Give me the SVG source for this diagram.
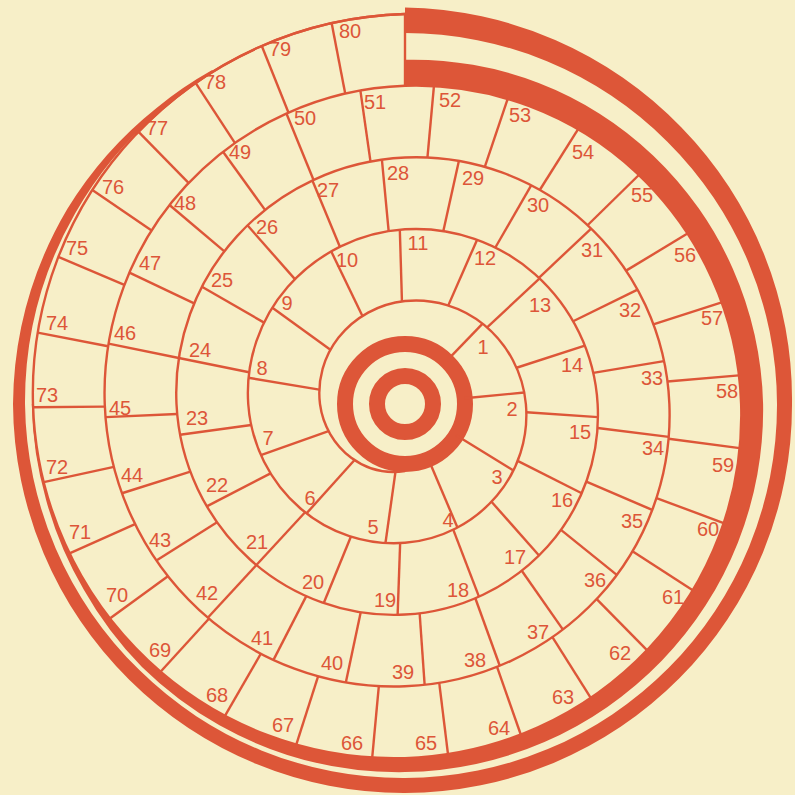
<svg xmlns="http://www.w3.org/2000/svg" width="795" height="795" viewBox="0 0 795 795">
<style>
.ln{fill:none;stroke:#dd5638;stroke-width:2.4}
.dv line{stroke:#dd5638;stroke-width:2.4}
.band{fill:#dd5638;stroke:none}
.lb text{font-family:"Liberation Sans",Arial,sans-serif;font-size:20px;fill:#dd5638;text-anchor:middle}
</style>
<rect id="background" x="0" y="0" width="795" height="795" fill="#f7efc8"/>
<g id="target">
<circle cx="405" cy="404" r="60" fill="none" stroke="#dd5638" stroke-width="16"/>
<circle cx="405" cy="404" r="28" fill="none" stroke="#dd5638" stroke-width="16"/>
</g>
<g id="spiral">
<path class="ln" d="M405 471.07 A71.6 71.6 0 0 1 351.23 457.77 A80.5 80.5 0 0 1 319.99 404 A89.5 89.5 0 0 1 338.55 337.55 A98.5 98.5 0 0 1 405 301.06 A107.4 107.4 0 0 1 484.13 324.87 A116.4 116.4 0 0 1 525.88 404 A125.4 125.4 0 0 1 496.82 495.82 A134.3 134.3 0 0 1 405 542.82 A143.3 143.3 0 0 1 300.5 508.5 A152.3 152.3 0 0 1 248.24 404 A161.2 161.2 0 0 1 287.81 286.81 A170.2 170.2 0 0 1 405 229.3 A179.2 179.2 0 0 1 534.87 274.13 A188.1 188.1 0 0 1 597.63 404 A197.1 197.1 0 0 1 547.55 546.55 A206.1 206.1 0 0 1 405 614.57 A215.1 215.1 0 0 1 249.76 559.24 A224 224 0 0 1 176.49 404 A233 233 0 0 1 237.08 236.08 A242 242 0 0 1 405 157.55 A250.9 250.9 0 0 1 585.61 223.39 A259.9 259.9 0 0 1 669.38 404 A268.9 268.9 0 0 1 598.29 597.29 A277.8 277.8 0 0 1 405 686.32 A286.8 286.8 0 0 1 199.03 609.97 A295.8 295.8 0 0 1 104.74 404 A304.7 304.7 0 0 1 186.34 185.34 A313.7 313.7 0 0 1 405 85.8 A322.7 322.7 0 0 1 636.34 172.66 A331.7 331.7 0 0 1 741.14 404 A340.6 340.6 0 0 1 649.03 648.03 A349.6 349.6 0 0 1 405 758.08 A358.6 358.6 0 0 1 148.29 660.71 A367.5 367.5 0 0 1 32.99 404 A376.5 376.5 0 0 1 135.61 134.61 A385.5 385.5 0 0 1 405 14.05"/>
<path class="ln" stroke-width="3.4" d="M135.61 134.61 A385.5 385.5 0 0 1 405 14.05"/>
</g>
<g id="inner-band">
<path class="band" d="M405 59.8 A347.7 347.7 0 0 1 653.33 155.67 A354.7 354.7 0 0 1 763.1 404 A360.6 360.6 0 0 1 661.75 660.75 A365.6 365.6 0 0 1 405 772.1 A369.6 369.6 0 0 1 219.45 725.37 A371.5 371.5 0 0 1 141.96 667.04 A371.5 371.5 0 0 1 83.7 589.5 A371.2 371.2 0 0 1 46.16 500.14 A372.3 372.3 0 0 1 31.8 404 L32.99 404 A370.5 370.5 0 0 0 48.56 499.5 A367.5 367.5 0 0 0 88.01 587.02 A364.5 364.5 0 0 0 148.29 660.71 A361.5 361.5 0 0 0 224.97 715.81 A357 357 0 0 0 405 758.08 A349.6 349.6 0 0 0 649.03 648.03 A340.6 340.6 0 0 0 741.14 404 A331.7 331.7 0 0 0 636.34 172.66 A322.7 322.7 0 0 0 405 85.8 Z"/>
</g>
<g id="outer-band">
<path class="band" d="M405 7.5 A393.7 393.7 0 0 1 681.48 127.52 A389 389 0 0 1 792 404 A387.5 387.5 0 0 1 679.35 678.35 A388.5 388.5 0 0 1 405 793 A389.5 389.5 0 0 1 129.23 679.77 A391 391 0 0 1 13 404 A391 391 0 0 1 67.26 209 A388 388 0 0 1 156.56 107.94 A386 386 0 0 1 212.2 70.07 L213.4 72.15 A382.6 382.6 0 0 0 159.45 111.39 A381.5 381.5 0 0 0 75.05 213.5 A380.5 380.5 0 0 0 25 404 A378 378 0 0 0 139.13 669.87 A375 375 0 0 0 405 778 A373.5 373.5 0 0 0 668.75 667.75 A372.5 372.5 0 0 0 777 404 A371.5 371.5 0 0 0 667.33 141.67 A371 371 0 0 0 405 33 Z"/>
</g>
<g id="dividers" class="dv" transform="translate(405 404)">
<line x1="60" x2="111.7" transform="rotate(314)"/>
<line x1="60" x2="119.8" transform="rotate(354.5)"/>
<line x1="60" x2="127.2" transform="rotate(31.5)"/>
<line x1="60" x2="134.2" transform="rotate(67)"/>
<line x1="68.7" x2="140.4" transform="rotate(98)"/>
<line x1="75.4" x2="147.2" transform="rotate(132)"/>
<line x1="81.1" x2="152.9" transform="rotate(160.5)"/>
<line x1="86.9" x2="158.7" transform="rotate(189.5)"/>
<line x1="92.2" x2="163.9" transform="rotate(216)"/>
<line x1="97.8" x2="169.6" transform="rotate(244.2)"/>
<line x1="102.6" x2="174.4" transform="rotate(268.3)"/>
<line x1="107.7" x2="179.4" transform="rotate(293.7)"/>
<line x1="112.3" x2="184.1" transform="rotate(317)"/>
<line x1="117.3" x2="189.1" transform="rotate(342)"/>
<line x1="121.7" x2="193.4" transform="rotate(3.9)"/>
<line x1="126.2" x2="198" transform="rotate(26.8)"/>
<line x1="130.6" x2="202.3" transform="rotate(48.5)"/>
<line x1="134.6" x2="206.4" transform="rotate(69)"/>
<line x1="139.2" x2="211" transform="rotate(92)"/>
<line x1="143.3" x2="215" transform="rotate(112.2)"/>
<line x1="147.3" x2="219.1" transform="rotate(132.7)"/>
<line x1="151.3" x2="223.1" transform="rotate(152.7)"/>
<line x1="155.2" x2="227" transform="rotate(172.2)"/>
<line x1="159.1" x2="230.8" transform="rotate(191.5)"/>
<line x1="162.7" x2="234.5" transform="rotate(210)"/>
<line x1="166.5" x2="238.2" transform="rotate(228.6)"/>
<line x1="170.2" x2="242" transform="rotate(247.5)"/>
<line x1="173.6" x2="245.4" transform="rotate(264.6)"/>
<line x1="177.2" x2="248.9" transform="rotate(282.5)"/>
<line x1="180.7" x2="252.4" transform="rotate(300)"/>
<line x1="184" x2="255.8" transform="rotate(316.7)"/>
<line x1="187.4" x2="259.2" transform="rotate(333.8)"/>
<line x1="190.8" x2="262.5" transform="rotate(350.6)"/>
<line x1="194.1" x2="265.8" transform="rotate(7.1)"/>
<line x1="197.3" x2="269" transform="rotate(23.2)"/>
<line x1="200.4" x2="272.1" transform="rotate(38.9)"/>
<line x1="203.6" x2="275.4" transform="rotate(55)"/>
<line x1="206.6" x2="278.4" transform="rotate(70.1)"/>
<line x1="209.8" x2="281.5" transform="rotate(86)"/>
<line x1="213" x2="284.7" transform="rotate(102)"/>
<line x1="216" x2="287.7" transform="rotate(117.2)"/>
<line x1="219.1" x2="290.8" transform="rotate(132.7)"/>
<line x1="222.1" x2="293.8" transform="rotate(147.8)"/>
<line x1="225" x2="296.8" transform="rotate(162.5)"/>
<line x1="228" x2="299.8" transform="rotate(177.5)"/>
<line x1="230.8" x2="302.6" transform="rotate(191.5)"/>
<line x1="233.6" x2="305.3" transform="rotate(205.5)"/>
<line x1="236.5" x2="308.3" transform="rotate(220.2)"/>
<line x1="239.3" x2="311.1" transform="rotate(234.2)"/>
<line x1="242" x2="313.8" transform="rotate(247.8)"/>
<line x1="244.8" x2="316.6" transform="rotate(261.9)"/>
<line x1="247.5" x2="319.2" transform="rotate(275.2)"/>
<line x1="250.2" x2="321.9" transform="rotate(288.6)"/>
<line x1="252.9" x2="324.6" transform="rotate(302.2)"/>
<line x1="255.5" x2="327.3" transform="rotate(315.6)"/>
<line x1="258.2" x2="329.9" transform="rotate(328.9)"/>
<line x1="260.8" x2="332.6" transform="rotate(342.2)"/>
<line x1="263.4" x2="335.2" transform="rotate(355.1)"/>
<line x1="265.9" x2="337.6" transform="rotate(7.5)"/>
<line x1="268.5" x2="340.2" transform="rotate(20.5)"/>
<line x1="270.9" x2="342.7" transform="rotate(32.9)"/>
<line x1="273.5" x2="345.2" transform="rotate(45.5)"/>
<line x1="275.9" x2="347.6" transform="rotate(57.7)"/>
<line x1="278.5" x2="350.2" transform="rotate(70.7)"/>
<line x1="280.9" x2="352.7" transform="rotate(83)"/>
<line x1="283.4" x2="355.1" transform="rotate(95.3)"/>
<line x1="285.9" x2="357.6" transform="rotate(107.7)"/>
<line x1="288.3" x2="360.1" transform="rotate(120)"/>
<line x1="290.8" x2="362.5" transform="rotate(132.4)"/>
<line x1="293.1" x2="364.8" transform="rotate(144)"/>
<line x1="295.5" x2="367.2" transform="rotate(156)"/>
<line x1="297.8" x2="369.6" transform="rotate(167.8)"/>
<line x1="300.2" x2="371.9" transform="rotate(179.5)"/>
<line x1="302.5" x2="374.2" transform="rotate(191)"/>
<line x1="304.9" x2="376.6" transform="rotate(203)"/>
<line x1="307.1" x2="378.9" transform="rotate(214.4)"/>
<line x1="309.4" x2="381.1" transform="rotate(225.6)"/>
<line x1="311.6" x2="383.4" transform="rotate(236.9)"/>
<line x1="313.9" x2="385.6" transform="rotate(248.2)"/>
<line x1="316" x2="387.8" transform="rotate(259.1)"/>
<line x1="318.2" x2="390" transform="rotate(270)"/>
</g>
<g id="labels" class="lb">
<text x="483" y="354">1</text>
<text x="512" y="416">2</text>
<text x="497" y="484">3</text>
<text x="448" y="527">4</text>
<text x="373" y="534">5</text>
<text x="310" y="505">6</text>
<text x="268" y="445">7</text>
<text x="262" y="375">8</text>
<text x="287" y="310">9</text>
<text x="347" y="267">10</text>
<text x="418" y="250">11</text>
<text x="485" y="265">12</text>
<text x="540" y="312">13</text>
<text x="572" y="372">14</text>
<text x="580" y="439">15</text>
<text x="562" y="507">16</text>
<text x="515" y="564">17</text>
<text x="458" y="597">18</text>
<text x="385" y="607">19</text>
<text x="313" y="589">20</text>
<text x="257" y="549">21</text>
<text x="217" y="492">22</text>
<text x="197" y="425">23</text>
<text x="200" y="357">24</text>
<text x="222" y="287">25</text>
<text x="267" y="234">26</text>
<text x="328" y="197">27</text>
<text x="398" y="180">28</text>
<text x="473" y="185">29</text>
<text x="538" y="212">30</text>
<text x="592" y="257">31</text>
<text x="630" y="317">32</text>
<text x="652" y="385">33</text>
<text x="653" y="455">34</text>
<text x="632" y="528">35</text>
<text x="595" y="587">36</text>
<text x="538" y="639">37</text>
<text x="475" y="667">38</text>
<text x="403" y="679">39</text>
<text x="332" y="670">40</text>
<text x="262" y="645">41</text>
<text x="207" y="600">42</text>
<text x="160" y="547">43</text>
<text x="132" y="482">44</text>
<text x="120" y="415">45</text>
<text x="125" y="340">46</text>
<text x="150" y="270">47</text>
<text x="185" y="210">48</text>
<text x="240" y="159">49</text>
<text x="305" y="125">50</text>
<text x="375" y="109">51</text>
<text x="450" y="107">52</text>
<text x="520" y="122">53</text>
<text x="583" y="159">54</text>
<text x="642" y="202">55</text>
<text x="685" y="262">56</text>
<text x="712" y="325">57</text>
<text x="727" y="398">58</text>
<text x="723" y="472">59</text>
<text x="708" y="536">60</text>
<text x="673" y="604">61</text>
<text x="620" y="660">62</text>
<text x="563" y="704">63</text>
<text x="499" y="735">64</text>
<text x="426" y="750">65</text>
<text x="352" y="750">66</text>
<text x="283" y="732">67</text>
<text x="217" y="702">68</text>
<text x="160" y="657">69</text>
<text x="117" y="602">70</text>
<text x="80" y="539">71</text>
<text x="57" y="474">72</text>
<text x="47" y="402">73</text>
<text x="57" y="330">74</text>
<text x="77" y="255">75</text>
<text x="113" y="194">76</text>
<text x="157" y="135">77</text>
<text x="215" y="89">78</text>
<text x="280" y="56">79</text>
<text x="350" y="38">80</text>
</g>
</svg>
